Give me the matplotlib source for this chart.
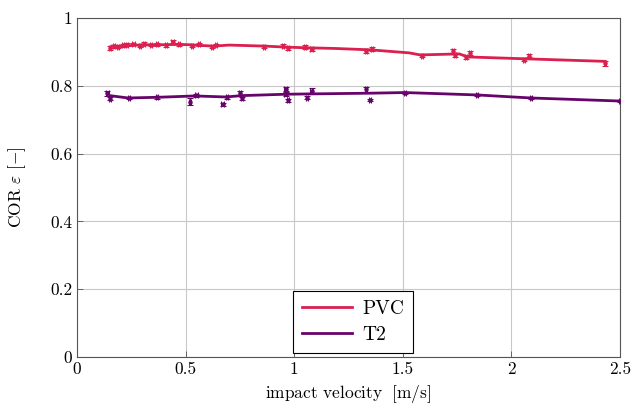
import numpy as np
import matplotlib
matplotlib.use("Agg")
import matplotlib.pyplot as plt

# mean restitution coefficient per velocity group
pvc_v = [0.16, 0.20, 0.235, 0.28, 0.335, 0.39, 0.465, 0.52, 0.566, 0.63, 0.70, 0.865, 0.96, 1.06, 1.19, 1.35, 1.53, 1.58, 1.76, 1.80, 2.09, 2.43]
pvc_cor = [0.917, 0.917, 0.918, 0.920, 0.921, 0.921, 0.922, 0.921, 0.919, 0.917, 0.920, 0.917, 0.914, 0.912, 0.910, 0.906, 0.897, 0.891, 0.894, 0.885, 0.879, 0.872]

t2_v = [0.15, 0.235, 0.37, 0.50, 0.54, 0.685, 0.76, 0.96, 1.07, 1.34, 1.51, 1.84, 2.09, 2.50]
t2_cor = [0.771, 0.764, 0.766, 0.769, 0.770, 0.767, 0.771, 0.775, 0.776, 0.778, 0.780, 0.773, 0.764, 0.755]

# single drops with measurement uncertainty
pvc_raw_v = [0.15, 0.17, 0.19, 0.21, 0.23, 0.26, 0.29, 0.31, 0.34, 0.37, 0.41, 0.44, 0.47, 0.53, 0.56, 0.62, 0.64, 0.86, 0.95, 0.97, 1.05, 1.08, 1.33, 1.36, 1.59, 1.73, 1.74, 1.79, 1.81, 2.06, 2.08, 2.43]
pvc_raw_cor = [0.912, 0.916, 0.914, 0.919, 0.921, 0.923, 0.918, 0.924, 0.920, 0.922, 0.919, 0.928, 0.922, 0.918, 0.922, 0.914, 0.920, 0.915, 0.918, 0.910, 0.914, 0.907, 0.902, 0.909, 0.888, 0.902, 0.890, 0.884, 0.898, 0.876, 0.889, 0.866]
pvc_raw_err = [0.006, 0.004, 0.004, 0.004, 0.005, 0.004, 0.004, 0.004, 0.004, 0.005, 0.004, 0.006, 0.004, 0.004, 0.004, 0.004, 0.004, 0.004, 0.005, 0.004, 0.005, 0.004, 0.004, 0.005, 0.004, 0.006, 0.005, 0.005, 0.006, 0.004, 0.005, 0.008]

t2_raw_v = [0.14, 0.15, 0.24, 0.37, 0.52, 0.55, 0.67, 0.69, 0.75, 0.76, 0.96, 0.96, 0.97, 1.06, 1.08, 1.33, 1.35, 1.51, 1.84, 2.09, 2.50]
t2_raw_cor = [0.778, 0.762, 0.764, 0.766, 0.753, 0.772, 0.745, 0.766, 0.778, 0.763, 0.791, 0.776, 0.757, 0.765, 0.786, 0.789, 0.758, 0.780, 0.773, 0.764, 0.755]
t2_raw_err = [0.008, 0.005, 0.004, 0.004, 0.010, 0.004, 0.004, 0.004, 0.006, 0.005, 0.006, 0.005, 0.005, 0.004, 0.006, 0.006, 0.004, 0.003, 0.003, 0.003, 0.003]

pvc_color = "#db1f4e"
t2_color = "#67046b"

plt.rcParams["font.family"] = "serif"
plt.rcParams["font.serif"] = ["cmr10", "DejaVu Serif"]
plt.rcParams["mathtext.fontset"] = "cm"
plt.rcParams["axes.formatter.use_mathtext"] = True

fig = plt.figure(figsize=(6.35, 4.09), dpi=100)
ax = fig.add_axes([0.1213, 0.1271, 0.855, 0.829])

for v, c, e, col in [(pvc_raw_v, pvc_raw_cor, pvc_raw_err, pvc_color),
                     (t2_raw_v, t2_raw_cor, t2_raw_err, t2_color)]:
    ax.errorbar(v, c, yerr=e, xerr=0.005, fmt="o", ms=2.2, color=col,
                ecolor=col, elinewidth=0.8, capsize=2.5, capthick=0.8, zorder=3)

ax.plot(pvc_v, pvc_cor, color=pvc_color, lw=2.0, label="PVC", zorder=4)
ax.plot(t2_v, t2_cor, color=t2_color, lw=2.0, label="T2", zorder=4)

ax.set_xlim(0, 2.5)
ax.set_ylim(0, 1)
ax.set_xticks([0, 0.5, 1, 1.5, 2, 2.5])
ax.set_xticklabels(["0", "0.5", "1", "1.5", "2", "2.5"])
ax.set_yticks([0, 0.2, 0.4, 0.6, 0.8, 1])
ax.set_yticklabels(["0", "0.2", "0.4", "0.6", "0.8", "1"])
ax.grid(True, color="#c8c8c8", lw=0.8)
ax.set_axisbelow(True)
ax.tick_params(direction="in", length=4, width=0.6, color="#555555", labelsize=12.5)
for s in ax.spines.values():
    s.set_color("#555555")
    s.set_linewidth(0.8)

ax.set_xlabel(r"impact velocity $\;[\mathrm{m/s}]$", fontsize=12.5)
ax.set_ylabel(r"COR $\varepsilon$ $[-]$", fontsize=12.5)
ax.yaxis.set_label_coords(-0.09, 0.5)

leg = ax.legend(loc="lower left", bbox_to_anchor=(0.398, 0.012), fontsize=14,
                fancybox=False, edgecolor="black", framealpha=1,
                handlelength=2.6, handletextpad=0.5, borderpad=0.45,
                labelspacing=0.45, borderaxespad=0)
leg.get_frame().set_linewidth(0.8)

fig.savefig("out.png", dpi=100)
